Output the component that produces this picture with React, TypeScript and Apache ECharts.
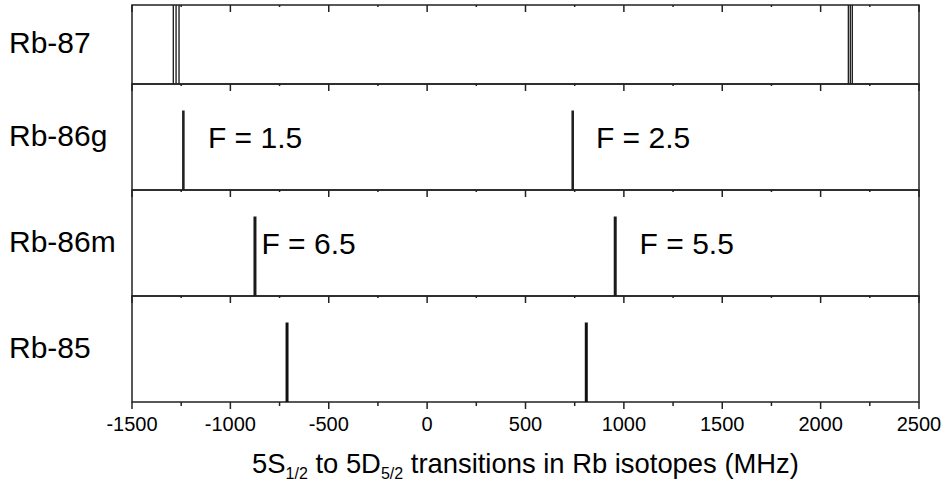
import React, { useEffect, useRef } from "react";
import * as echarts from "echarts";

// Panel names (top to bottom)
const panelNames = ["Rb-87", "Rb-86g", "Rb-86m", "Rb-85"];

// Transition line positions (MHz) and relative heights per panel
const rb87Lines = [-1290, -1276, -1261, 2141, 2151, 2161];
const rb87Heights = [1, 1, 1, 1, 1, 1];
const rb86gLines = [-1239, 740];
const rb86gHeights = [0.75, 0.75];
const rb86mLines = [-875, 956];
const rb86mHeights = [0.75, 0.75];
const rb85Lines = [-712, 809];
const rb85Heights = [0.75, 0.75];

// Annotation labels (text, anchor x in MHz, anchor y in panel units)
const rb86gLabels = ["F = 1.5", "F = 2.5"];
const rb86gLabelX = [-1114, 858];
const rb86mLabels = ["F = 6.5", "F = 5.5"];
const rb86mLabelX = [-842, 1080];
const labelY = 0.5;

// Axis
const xMin = -1500;
const xMax = 2500;
const xInterval = 500;
const majorTickValues = [-1500, -1000, -500, 0, 500, 1000, 1500, 2000, 2500];
const minorTickValues = [-1250, -750, -250, 250, 750, 1250, 1750, 2250];

const FONT = "'Liberation Sans', Arial, Helvetica, sans-serif";

export default function App() {
  const ref = useRef<HTMLDivElement>(null);

  useEffect(() => {
    if (!ref.current) return;
    const chart = echarts.init(ref.current, null, { renderer: "svg" });

    const left = 132;
    const width = 787;
    const panels = [
      { top: 5, height: 79 },
      { top: 84, height: 106 },
      { top: 190, height: 106 },
      { top: 296, height: 106 },
    ];

    const lineSets = [
      { xs: rb87Lines, hs: rb87Heights, width: 1.4, color: "#222" },
      { xs: rb86gLines, hs: rb86gHeights, width: 2.6, color: "#222" },
      { xs: rb86mLines, hs: rb86mHeights, width: 3, color: "#1a1a1a" },
      { xs: rb85Lines, hs: rb85Heights, width: 3, color: "#111" },
    ];

    const grids = panels.map((p) => ({
      left,
      width,
      top: p.top,
      height: p.height,
      show: true,
      borderColor: "#222",
      borderWidth: 1.5,
      backgroundColor: "transparent",
    }));

    const xAxes: any[] = [];
    const yAxes: any[] = [];
    panels.forEach((_, i) => {
      const isBottom = i === panels.length - 1;
      xAxes.push({
        type: "value",
        gridIndex: i,
        position: "bottom",
        min: xMin,
        max: xMax,
        interval: xInterval,
        axisLine: { show: false },
        splitLine: { show: false },
        axisTick: { show: false },
        minorTick: { show: false },
        axisLabel: {
          show: isBottom,
          color: "#000",
          fontSize: 20,
          fontFamily: FONT,
          margin: 12,
          formatter: (v: number) => String(v),
        },
        name: isBottom
          ? "{n|5S}{s|1/2}{n| to 5D}{s|5/2}{n| transitions in Rb isotopes (MHz)}"
          : "",
        nameLocation: "middle",
        nameGap: 48,
        nameTextStyle: {
          rich: {
            n: { fontSize: 27.4, fontFamily: FONT, color: "#000", verticalAlign: "top", lineHeight: 32 },
            s: {
              fontSize: 16,
              fontFamily: FONT,
              color: "#000",
              verticalAlign: "top",
              lineHeight: 16,
              padding: [15, 0, 0, 0],
            },
          },
        },
      });
      yAxes.push({
        type: "value",
        gridIndex: i,
        min: 0,
        max: 1,
        show: false,
      });
    });

    const series: any[] = [];

    // tick marks: inward on top of every panel, outward under the bottom panel
    panels.forEach((_, i) => {
      const isBottom = i === panels.length - 1;
      const tickData: any[] = [];
      majorTickValues.forEach((v) => tickData.push([v, 1]));
      minorTickValues.forEach((v) => tickData.push([v, 0]));
      series.push({
        type: "custom",
        xAxisIndex: i,
        yAxisIndex: i,
        clip: false,
        silent: true,
        data: tickData,
        renderItem: (params: any, api: any) => {
          const v = api.value(0);
          const major = api.value(1) === 1;
          const top = api.coord([v, 1]);
          const bot = api.coord([v, 0]);
          const children: any[] = [
            {
              type: "line",
              shape: { x1: top[0], y1: top[1], x2: top[0], y2: top[1] + (major ? 7 : 2) },
              style: { stroke: "#222", lineWidth: 1.5 },
            },
          ];
          if (isBottom) {
            children.push({
              type: "line",
              shape: { x1: bot[0], y1: bot[1], x2: bot[0], y2: bot[1] + (major ? 7 : 4) },
              style: { stroke: "#222", lineWidth: 1.5 },
            });
          }
          return { type: "group", children };
        },
      });
    });

    lineSets.forEach((set, i) => {
      series.push({
        type: "custom",
        xAxisIndex: i,
        yAxisIndex: i,
        clip: false,
        data: set.xs.map((x, k) => [x, set.hs[k]]),
        renderItem: (params: any, api: any) => {
          const x = api.value(0);
          const h = api.value(1);
          const p0 = api.coord([x, 0]);
          const p1 = api.coord([x, h]);
          return {
            type: "line",
            shape: { x1: p0[0], y1: p0[1], x2: p1[0], y2: p1[1] },
            style: { stroke: set.color, lineWidth: set.width },
          };
        },
      });
    });

    const labelSets = [
      { panel: 1, texts: rb86gLabels, xs: rb86gLabelX },
      { panel: 2, texts: rb86mLabels, xs: rb86mLabelX },
    ];
    labelSets.forEach((ls) => {
      series.push({
        type: "custom",
        xAxisIndex: ls.panel,
        yAxisIndex: ls.panel,
        clip: false,
        data: ls.xs.map((x) => [x, labelY]),
        renderItem: (params: any, api: any) => {
          const p = api.coord([api.value(0), api.value(1)]);
          return {
            type: "text",
            x: p[0],
            y: p[1],
            style: {
              text: ls.texts[params.dataIndex],
              fontSize: 30,
              fontFamily: FONT,
              fill: "#000",
              align: "left",
              verticalAlign: "middle",
            },
          };
        },
      });
    });

    const graphic = panelNames.map((name, i) => ({
      type: "text",
      left: 9,
      top: panels[i].top + panels[i].height / 2 - 17,
      style: {
        text: name,
        fontSize: 30,
        fontFamily: FONT,
        fill: "#000",
      },
    }));

    chart.setOption({
      animation: false,
      backgroundColor: "#fff",
      grid: grids,
      xAxis: xAxes,
      yAxis: yAxes,
      series,
      graphic,
    });

    return () => chart.dispose();
  }, []);

  return (
    <div
      ref={ref}
      style={{ position: "fixed", left: 0, top: 0, width: 947, height: 499 }}
    />
  );
}
